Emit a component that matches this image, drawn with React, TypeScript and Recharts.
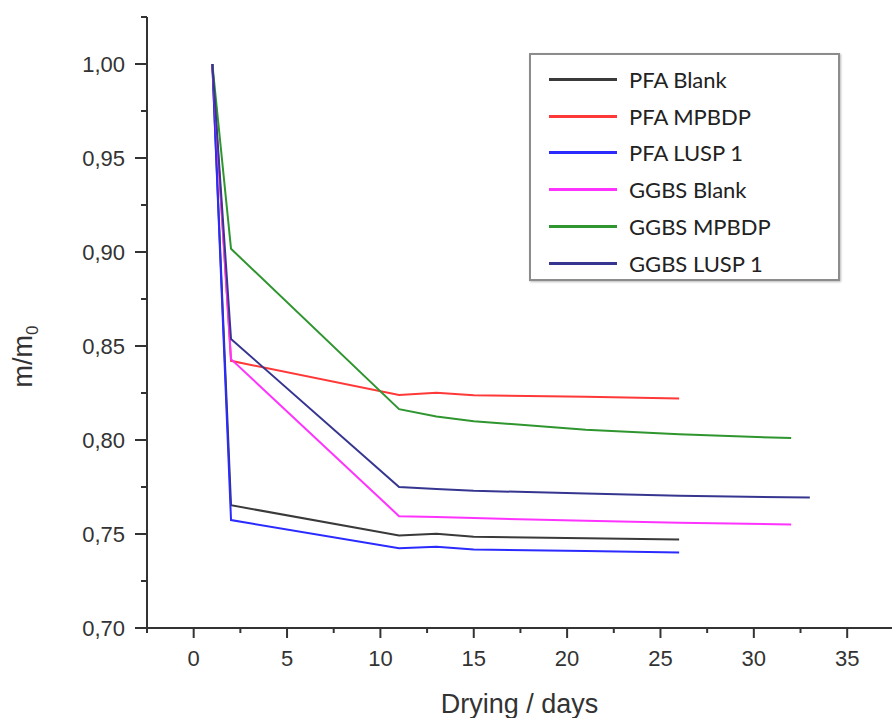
import { LineChart, Line, XAxis, YAxis, Legend } from "recharts";

// drying days at which each series was weighed
const pfaDays = [1, 2, 11, 13, 15, 21, 26];
const ggbsDays = [1, 2, 11, 13, 15, 21, 26, 32];
const ggbsLuspDays = [1, 2, 11, 13, 15, 21, 26, 33];

// m/m0 values
const pfaBlank = [1.0, 0.7653, 0.7492, 0.7501, 0.7485, 0.7478, 0.7471];
const pfaMpbdp = [1.0, 0.8421, 0.824, 0.8251, 0.8238, 0.823, 0.8221];
const pfaLusp1 = [1.0, 0.7574, 0.7424, 0.7432, 0.7418, 0.741, 0.7401];
const ggbsBlank = [1.0, 0.843, 0.7595, 0.759, 0.7585, 0.757, 0.756, 0.7551];
const ggbsMpbdp = [1.0, 0.9017, 0.8164, 0.8125, 0.81, 0.8055, 0.803, 0.801];
const ggbsLusp1 = [1.0, 0.8537, 0.775, 0.774, 0.773, 0.7715, 0.7703, 0.7694];

const xTicks = [-2.5, 0, 2.5, 5, 7.5, 10, 12.5, 15, 17.5, 20, 22.5, 25, 27.5, 30, 32.5, 35];
const yTicks = [0.7, 0.725, 0.75, 0.775, 0.8, 0.825, 0.85, 0.875, 0.9, 0.925, 0.95, 0.975, 1.0, 1.025];

const toPoints = (days: number[], vals: number[]) =>
  days.map((d, i) => ({ day: d, value: vals[i] }));

const series = [
  { name: "PFA Blank", color: "#3a3a3a", data: toPoints(pfaDays, pfaBlank) },
  { name: "PFA MPBDP", color: "#ff3838", data: toPoints(pfaDays, pfaMpbdp) },
  { name: "PFA LUSP 1", color: "#2b2bff", data: toPoints(pfaDays, pfaLusp1) },
  { name: "GGBS Blank", color: "#ff33ff", data: toPoints(ggbsDays, ggbsBlank) },
  { name: "GGBS MPBDP", color: "#2f952f", data: toPoints(ggbsDays, ggbsMpbdp) },
  { name: "GGBS LUSP 1", color: "#363690", data: toPoints(ggbsLuspDays, ggbsLusp1) },
];
const seriesOrder = series.map((s) => s.name);

const axisColor = "#333";
const tickFont = "'Liberation Sans', Arial, sans-serif";

const XTick = (props: any) => {
  const { x, y, payload } = props;
  const major = payload.value % 5 === 0;
  return (
    <g>
      <line x1={x} x2={x} y1={y} y2={y + (major ? 10 : 5)} stroke={axisColor} strokeWidth={2} />
      {major && (
        <text x={x} y={y + 38} textAnchor="middle" fontSize={22} fill="#333" fontFamily={tickFont}>
          {payload.value}
        </text>
      )}
    </g>
  );
};

const YTick = (props: any) => {
  const { x, y, payload } = props;
  const v = payload.value;
  const major = Math.abs(v * 20 - Math.round(v * 20)) < 1e-6;
  return (
    <g>
      <line x1={x - (major ? 12 : 6)} x2={x} y1={y} y2={y} stroke={axisColor} strokeWidth={2} />
      {major && (
        <text x={x - 22} y={y} dy="0.36em" textAnchor="end" fontSize={22} fill="#333" fontFamily={tickFont}>
          {v.toFixed(2).replace(".", ",")}
        </text>
      )}
    </g>
  );
};

const YTitle = (props: any) => {
  const { viewBox } = props;
  const cx = viewBox.x + 32;
  const cy = viewBox.y + viewBox.height / 2 + 34;
  return (
    <text
      x={cx}
      y={cy}
      transform={`rotate(-90, ${cx}, ${cy})`}
      textAnchor="middle"
      fontSize={27}
      fill="#333"
      fontFamily={tickFont}
    >
      m/m
      <tspan fontSize={17} dy={6}>0</tspan>
    </text>
  );
};

const LegendBox = (props: any) => {
  const items = [...(props.payload || [])].sort(
    (a: any, b: any) => seriesOrder.indexOf(a.value) - seriesOrder.indexOf(b.value)
  );
  return (
    <div
      style={{
        width: 311,
        height: 228,
        border: "2px solid #8c8c8c",
        background: "#fff",
        boxShadow: "1px 1px 2px #bbb",
        paddingTop: 6,
        boxSizing: "border-box",
        fontFamily: "Lato, sans-serif",
        fontSize: 22,
        color: "#222",
      }}
    >
      {items.map((p: any, i: number) => (
        <div key={i} style={{ display: "flex", alignItems: "center", height: 36.8 }}>
          <div style={{ marginLeft: 18, width: 68, height: 3, background: p.color }} />
          <span style={{ marginLeft: 12, whiteSpace: "nowrap" }}>{p.value}</span>
        </div>
      ))}
    </div>
  );
};

export default function App() {
  return (
    <div style={{ position: "absolute", left: 0, top: 0, width: 892, height: 718, overflow: "hidden" }}>
      <LineChart width={892} height={718} margin={{ top: 17, right: 0, bottom: 0, left: 0 }}>
        <XAxis
          dataKey="day"
          type="number"
          domain={[-2.5, 37.4]}
          ticks={xTicks}
          interval={0}
          tickSize={0}
          tickMargin={0}
          tickLine={false}
          tick={<XTick />}
          height={90}
          allowDataOverflow
          axisLine={{ stroke: axisColor, strokeWidth: 2 }}
          label={{
            value: "Drying / days",
            position: "insideBottom",
            offset: 5,
            fontSize: 27,
            fill: "#333",
            fontFamily: tickFont,
          }}
        />
        <YAxis
          dataKey="value"
          type="number"
          domain={[0.7, 1.025]}
          ticks={yTicks}
          interval={0}
          tickSize={0}
          tickMargin={0}
          tickLine={false}
          tick={<YTick />}
          width={147}
          allowDataOverflow
          axisLine={{ stroke: axisColor, strokeWidth: 2 }}
          label={<YTitle />}
        />
        <Legend
          layout="vertical"
          align="center"
          verticalAlign="middle"
          itemSorter={null as any}
          content={<LegendBox />}
          wrapperStyle={{ left: 529, top: 53, width: "auto" }}
        />
        {series.map((s) => (
          <Line
            key={s.name}
            data={s.data}
            dataKey="value"
            name={s.name}
            stroke={s.color}
            strokeWidth={2}
            dot={false}
            isAnimationActive={false}
          />
        ))}
      </LineChart>
    </div>
  );
}
